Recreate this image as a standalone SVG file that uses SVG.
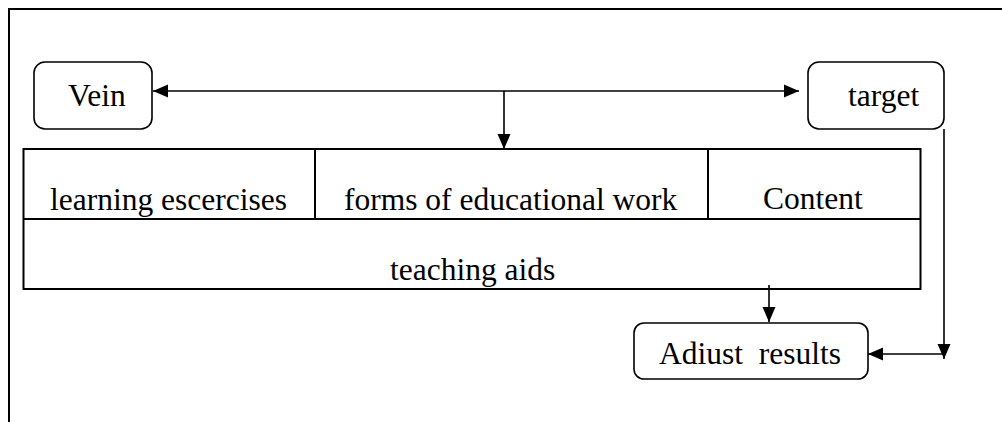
<svg xmlns="http://www.w3.org/2000/svg" width="1002" height="422" viewBox="0 0 1002 422">
<style>
.t{font-family:"Liberation Serif","Times New Roman",serif;font-size:31.5px;fill:#000}
.box{fill:#fff;stroke:#000;stroke-width:1.6}
.tbl{fill:none;stroke:#000;stroke-width:2}
.c{fill:none;stroke:#000;stroke-width:1.6}
</style>
<defs>
<marker id="ah" markerUnits="userSpaceOnUse" markerWidth="16" markerHeight="16" viewBox="0 0 16 16" refX="15" refY="8" orient="auto">
<path d="M0,1.5 L15,8 L0,14.5 Z" fill="#000"/>
</marker>
</defs>
<rect width="1002" height="422" fill="#fff"/>
<g id="frame"><path d="M9,422 V9 H1002" class="tbl"/></g>
<g id="table">
<rect x="23.5" y="149" width="897" height="140" class="tbl"/>
<path d="M23.5,219 H920.5 M315,149 V219 M708,149 V219" class="tbl"/>
</g>
<g id="cell-learning"><text class="t" x="50" y="210">learning escercises</text></g>
<g id="cell-forms"><text class="t" x="344" y="210">forms of educational work</text></g>
<g id="cell-content"><text class="t" x="763" y="209">Content</text></g>
<g id="cell-aids"><text class="t" x="390" y="280">teaching aids</text></g>
<g id="vein"><rect x="34" y="62" width="118" height="67" rx="11" class="box"/><text class="t" x="68" y="106">Vein</text></g>
<g id="target"><rect x="808" y="62" width="136" height="67" rx="11" class="box"/><text class="t" x="848" y="106">target</text></g>
<g id="adjust"><rect x="634" y="323" width="234" height="56" rx="10" class="box"/><text class="t" x="659" y="364" xml:space="preserve">Adiust  results</text></g>
<g id="connectors">
<path d="M480,91 H153" class="c" marker-end="url(#ah)"/>
<path d="M480,91 H799" class="c" marker-end="url(#ah)"/>
<path d="M504,91 V149" class="c" marker-end="url(#ah)"/>
<path d="M769,285 V322" class="c" marker-end="url(#ah)"/>
<path d="M944,129 V359" class="c" marker-end="url(#ah)"/>
<path d="M944,354 H868" class="c" marker-end="url(#ah)"/>
</g>
</svg>
